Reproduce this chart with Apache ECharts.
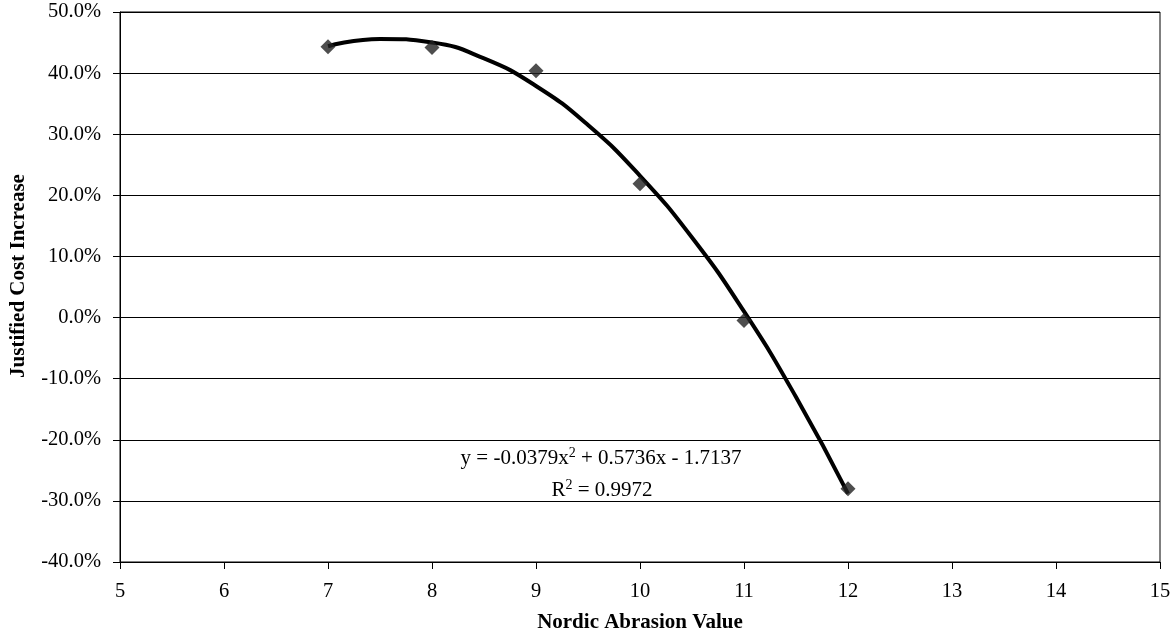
<!DOCTYPE html>
<html>
<head>
<meta charset="utf-8">
<script src="https://cdn.jsdelivr.net/npm/echarts@6/dist/echarts.min.js"></script>
<style>
  html, body { margin: 0; padding: 0; background: #fff; }
  #chart { width: 1175px; height: 635px; }
</style>
</head>
<body>
<div id="chart"></div>
<script>
// measured points
const abrasion = [7, 8, 9, 10, 11, 12]
const costIncrease = [44.3, 44.2, 40.4, 21.9, -0.5, -28.0]

// trend curve
const trendX = [7, 7.5, 8, 8.5, 9, 9.5, 10, 10.5, 11, 11.5, 12]
const trendY = [44.4, 45.6, 45.0, 42.4, 37.9, 31.5, 23.2, 13.1, 1.0, -13.0, -28.8]

const yTicks = { min: -40, max: 50, step: 10 }
const xTicks = { min: 5, max: 15, step: 1 }

const font = '"Liberation Serif", "Times New Roman", serif'

const chart = echarts.init(document.getElementById('chart'))
chart.setOption({
  animation: false,
  textStyle: { fontFamily: font },
  grid: {
    left: 120, right: 15, top: 12, bottom: 73,
    containLabel: false,
    outerBoundsMode: 'none',
    show: true, borderColor: '#000', borderWidth: 1
  },
  xAxis: {
    type: 'value',
    min: xTicks.min, max: xTicks.max, interval: xTicks.step,
    name: 'Nordic Abrasion Value',
    nameLocation: 'middle',
    nameGap: 50,
    nameTextStyle: { fontFamily: font, fontSize: 21, fontWeight: 'bold', color: '#000' },
    axisLine: { onZero: false, lineStyle: { color: '#000' } },
    axisTick: { length: 7, lineStyle: { color: '#000' } },
    axisLabel: { fontFamily: font, fontSize: 20.5, color: '#000', margin: 19 },
    splitLine: { show: false }
  },
  yAxis: {
    type: 'value',
    min: yTicks.min, max: yTicks.max, interval: yTicks.step,
    name: 'Justified Cost Increase',
    nameLocation: 'middle',
    nameGap: 91,
    nameTextStyle: {
      fontFamily: font, fontSize: 21, fontWeight: 'bold', color: '#000',
      padding: [0, 0, 0, 22]
    },
    axisLine: { show: true, lineStyle: { color: '#000' } },
    axisTick: { show: true, length: 7, lineStyle: { color: '#000' } },
    axisLabel: {
      fontFamily: font, fontSize: 20.5, color: '#000', margin: 19,
      formatter: v => v.toFixed(1) + '%'
    },
    splitLine: { show: true, lineStyle: { color: '#000', width: 1 } }
  },
  series: [
    {
      type: 'line',
      data: trendX.map((x, i) => [x, trendY[i]]),
      smooth: 0.5,
      showSymbol: false,
      lineStyle: { color: '#000', width: 4 },
      z: 2
    },
    {
      type: 'scatter',
      data: abrasion.map((x, i) => [x, costIncrease[i]]),
      symbol: 'diamond',
      symbolSize: 15,
      itemStyle: { color: '#222' },
      z: 3
    }
  ],
  graphic: [
    {
      type: 'text',
      x: 601, y: 446,
      style: {
        text: '{n|y = -0.0379x}{s|2}{n| + 0.5736x - 1.7137}',
        rich: {
          n: { fontFamily: font, fontSize: 21, fill: '#000', lineHeight: 24 },
          s: { fontFamily: font, fontSize: 14, fill: '#000', padding: [0, 0, 10, 0] }
        },
        align: 'center'
      }
    },
    {
      type: 'text',
      x: 602, y: 478,
      style: {
        text: '{n|R}{s|2}{n| = 0.9972}',
        rich: {
          n: { fontFamily: font, fontSize: 21, fill: '#000', lineHeight: 24 },
          s: { fontFamily: font, fontSize: 14, fill: '#000', padding: [0, 0, 10, 0] }
        },
        align: 'center'
      }
    }
  ]
})
</script>
</body>
</html>
